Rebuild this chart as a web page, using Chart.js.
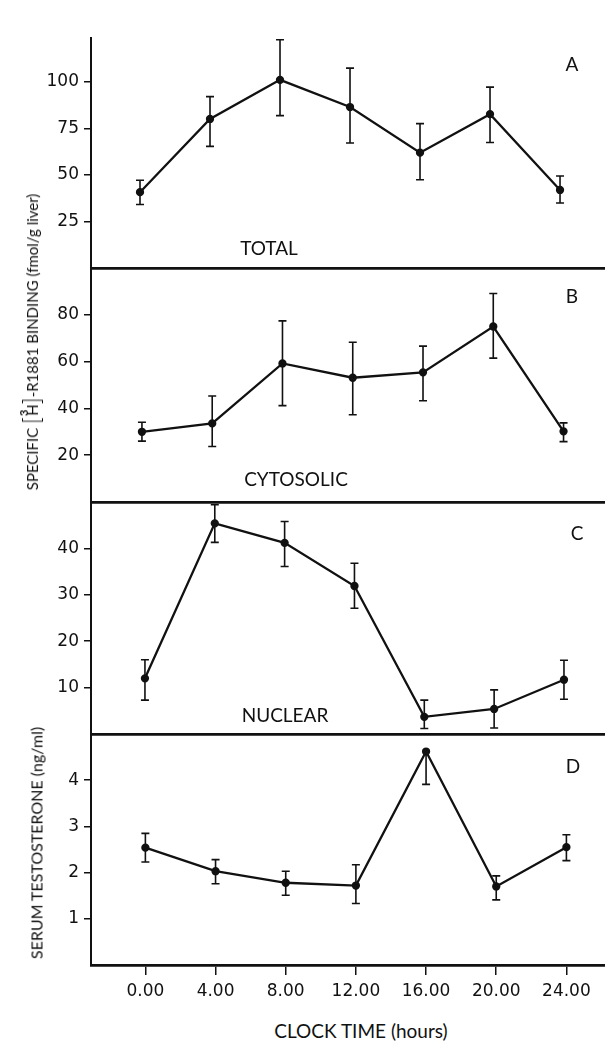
<!DOCTYPE html>
<html>
<head>
<meta charset="utf-8">
<script src="https://cdn.jsdelivr.net/npm/chart.js@4.4.0/dist/chart.umd.min.js"></script>
<style>
  body { margin: 0; background: #fff; }
  #wrap { position: relative; width: 605px; height: 1045px; overflow: hidden; font-family: Lato, sans-serif; color: #111; }
  .panel { position: absolute; left: 0; line-height: 0; }
  .lbl { position: absolute; transform: translate(-50%, -50%); white-space: nowrap; font-size: 19px; }
  .rot { position: absolute; transform: translate(-50%, -50%) rotate(-90deg); white-space: nowrap; font-size: 15px; }
  .br { font-size: 23px; font-weight: 300; position: relative; top: 2px; }
  .sup { font-size: 11px; font-weight: bold; position: relative; top: -10px; margin-right: -6px; margin-left: 1px; }
</style>
</head>
<body>
<div id="wrap">
  <div class="panel" style="top:37px"><canvas id="cA" width="605" height="233"></canvas></div>
  <div class="panel" style="top:268px"><canvas id="cB" width="605" height="236"></canvas></div>
  <div class="panel" style="top:502px"><canvas id="cC" width="605" height="234"></canvas></div>
  <div class="panel" style="top:734px"><canvas id="cD" width="605" height="281"></canvas></div>

  <div class="lbl" style="left:572px;top:63px">A</div>
  <div class="lbl" style="left:572px;top:295px">B</div>
  <div class="lbl" style="left:577px;top:532px">C</div>
  <div class="lbl" style="left:573px;top:765px">D</div>

  <div class="lbl" style="left:269px;top:247px">TOTAL</div>
  <div class="lbl" style="left:296px;top:478px">CYTOSOLIC</div>
  <div class="lbl" style="left:285px;top:714px">NUCLEAR</div>

  <div class="rot" style="left:29px;top:342px">SPECIFIC <span class="br">[</span><span class="sup">3</span>H<span class="br">]</span>-R1881 BINDING (fmol/g liver)</div>
  <div class="rot" style="left:36px;top:843px;font-size:16px">SERUM TESTOSTERONE (ng/ml)</div>
  <div class="lbl" style="left:361px;top:1030px">CLOCK TIME (hours)</div>
</div>

<script>
const hours = [0, 4, 8, 12, 16, 20, 24];
const xTicks = [0, 4, 8, 12, 16, 20, 24];

// A - total
const totalMean = [40.7, 80.0, 101.0, 86.4, 61.9, 82.6, 41.9];
const totalLow  = [34.1, 65.3, 81.8, 67.1, 47.4, 67.4, 34.9];
const totalHigh = [47.1, 92.0, 122.5, 107.3, 77.5, 97.1, 49.4];
const totalTicks = [25, 50, 75, 100];

// B - cytosolic
const cytoMean = [30.0, 33.6, 59.2, 53.1, 55.4, 75.0, 30.2];
const cytoLow  = [26.0, 23.7, 41.2, 37.3, 43.3, 61.5, 25.8];
const cytoHigh = [34.1, 45.3, 77.4, 68.3, 66.6, 89.1, 33.8];
const cytoTicks = [20, 40, 60, 80];

// C - nuclear
const nucMean = [12.0, 45.4, 41.2, 31.9, 3.7, 5.4, 11.7];
const nucLow  = [7.3, 41.3, 36.1, 27.1, 1.2, 1.3, 7.5];
const nucHigh = [16.0, 49.4, 45.8, 36.8, 7.3, 9.5, 15.9];
const nucTicks = [10, 20, 30, 40];

// D - serum testosterone
const testoMean = [2.54, 2.03, 1.78, 1.72, 4.62, 1.70, 2.55];
const testoLow  = [2.23, 1.76, 1.51, 1.33, 3.91, 1.41, 2.26];
const testoHigh = [2.85, 2.28, 2.03, 2.17, 4.62, 1.93, 2.82];
const testoTicks = [1, 2, 3, 4];

// x range per panel (the scan is slightly skewed)
const xRangeA = [-2.8, 26.57];
const xRangeB = [-2.9, 26.36];
const xRangeC = [-3.09, 26.35];
const xRangeD = [-3.1, 26.2];

const ink = '#111';

const errorBars = {
  id: 'errorBars',
  afterDatasetsDraw(chart) {
    const ds = chart.data.datasets[0];
    const meta = chart.getDatasetMeta(0);
    const y = chart.scales.y;
    const ctx = chart.ctx;
    ctx.save();
    ctx.strokeStyle = ink;
    ctx.lineWidth = 1.6;
    meta.data.forEach((pt, i) => {
      const top = y.getPixelForValue(ds.hi[i]);
      const bot = y.getPixelForValue(ds.lo[i]);
      ctx.beginPath();
      ctx.moveTo(pt.x, top);
      ctx.lineTo(pt.x, bot);
      if (ds.hi[i] > ds.data[i].y) {
        ctx.moveTo(pt.x - 4, top);
        ctx.lineTo(pt.x + 4, top);
      }
      ctx.moveTo(pt.x - 4, bot);
      ctx.lineTo(pt.x + 4, bot);
      ctx.stroke();
    });
    ctx.restore();
  }
};

function makePanel(id, mean, lo, hi, yMax, yTicks, xRange, isBottom) {
  new Chart(document.getElementById(id), {
    type: 'line',
    data: {
      datasets: [{
        data: hours.map((h, i) => ({ x: h, y: mean[i] })),
        lo: lo,
        hi: hi,
        borderColor: ink,
        borderWidth: 2.3,
        pointRadius: 3,
        pointBackgroundColor: ink,
        pointBorderColor: ink,
        tension: 0,
        clip: false
      }]
    },
    options: {
      responsive: false,
      animation: false,
      layout: { padding: 0, autoPadding: false },
      plugins: { legend: { display: false }, tooltip: { enabled: false } },
      scales: {
        x: {
          type: 'linear',
          min: xRange[0],
          max: xRange[1],
          grid: { display: true, drawOnChartArea: false, drawTicks: isBottom, tickLength: 10, color: ink, lineWidth: 1.5 },
          border: { display: true, color: ink, width: 2.7 },
          ticks: {
            display: isBottom,
            padding: 6,
            color: ink,
            maxRotation: 0,
            autoSkip: false,
            font: { family: 'DejaVu Sans', size: 17 },
            callback: v => v.toFixed(2)
          },
          afterBuildTicks: s => { s.ticks = xTicks.map(v => ({ value: v })); },
          afterFit: s => { s.height = isBottom ? 50 : 2; s.paddingLeft = 0; s.paddingRight = 0; }
        },
        y: {
          min: 0,
          max: yMax,
          grid: { display: true, drawOnChartArea: false, drawTicks: true, tickLength: 7, color: ink, lineWidth: 1.5 },
          border: { display: true, color: ink, width: 2 },
          ticks: { padding: 5, color: ink, font: { family: 'DejaVu Sans', size: 17 } },
          afterBuildTicks: s => { s.ticks = yTicks.map(v => ({ value: v })); },
          afterFit: s => { s.width = 91; s.paddingTop = 0; s.paddingBottom = 0; }
        }
      }
    },
    plugins: [errorBars]
  });
}

makePanel('cA', totalMean, totalLow, totalHigh, 124, totalTicks, xRangeA, false);
makePanel('cB', cytoMean, cytoLow, cytoHigh, 100, cytoTicks, xRangeB, false);
makePanel('cC', nucMean, nucLow, nucHigh, 50, nucTicks, xRangeC, false);
makePanel('cD', testoMean, testoLow, testoHigh, 5, testoTicks, xRangeD, true);
</script>
</body>
</html>
